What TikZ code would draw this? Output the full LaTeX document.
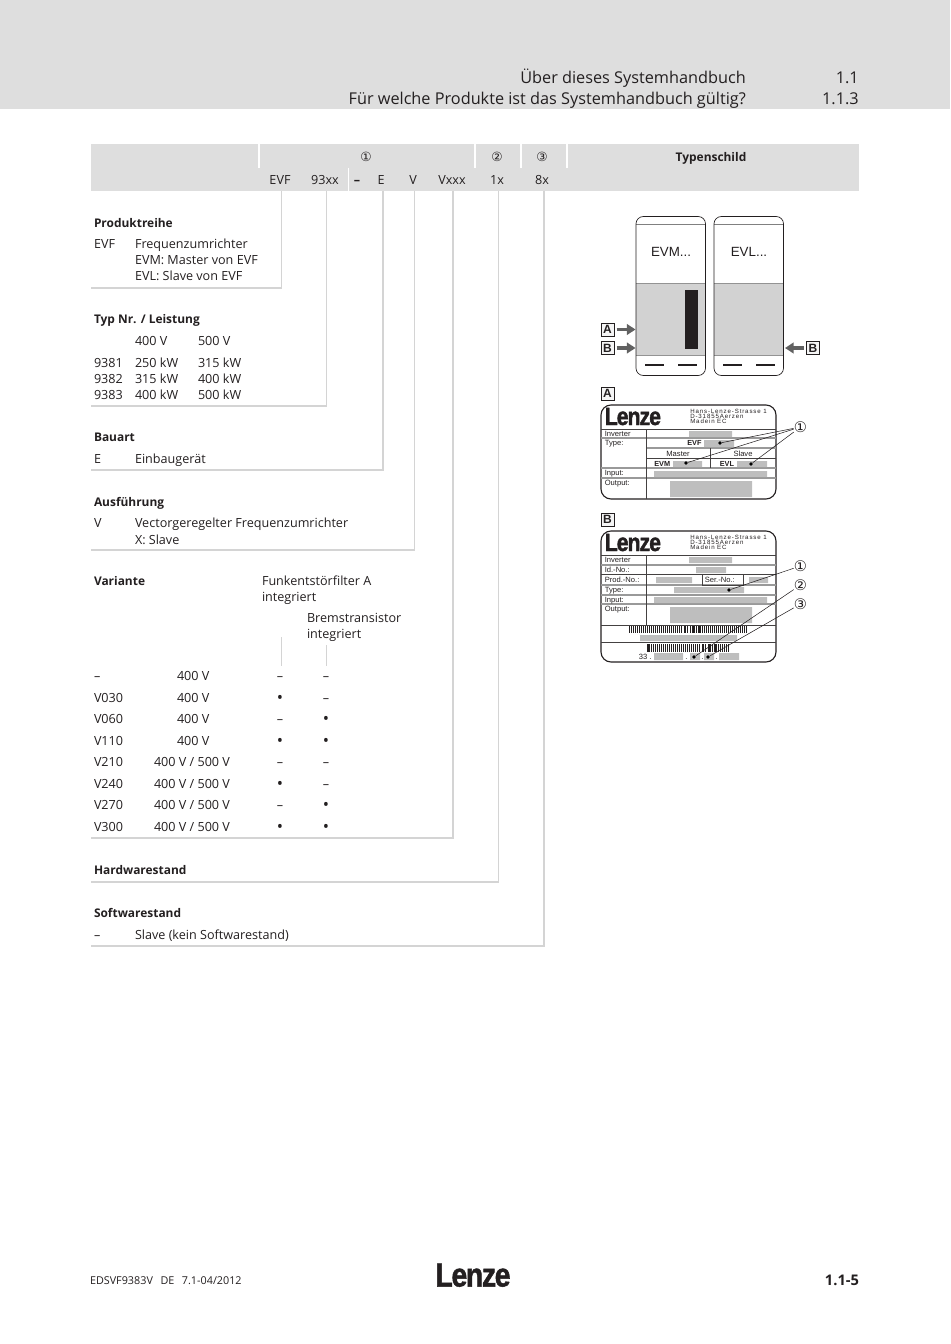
\documentclass[tikz,border=0pt]{standalone}
\usepackage{fontspec}
\setmainfont{Open Sans}
\newfontfamily\lab{Liberation Sans}
\newfontfamily\sym{DejaVu Sans}
\newfontfamily\lgf[FakeBold=1.5,FakeStretch=0.85,LetterSpace=-4]{Liberation Sans Bold}
\newfontfamily\adf[LetterSpace=14]{Liberation Sans}
\definecolor{band}{HTML}{DEDEDE}
\definecolor{rule}{HTML}{D4D4D4}
\definecolor{gbox}{HTML}{BEBEBE}
\definecolor{cab}{HTML}{D2D2D2}
\definecolor{ink}{HTML}{231F20}
\usetikzlibrary{arrows.meta}
\tikzset{
 x=0.75pt,y=-0.75pt,
 txt/.style={inner sep=0,outer sep=0,anchor=base west,text=ink,font=\fontsize{9.45}{11}\selectfont},
 ctr/.style={txt,anchor=base},
 rgt/.style={txt,anchor=base east},
 title/.style={inner sep=0,anchor=base east,text=ink,font=\fontsize{12.2}{14}\selectfont},
 rulei/.style={draw=rule,line width=1.25pt},
 whitei/.style={draw=white,line width=1.3pt},
 plate/.style={draw=ink,line width=0.85pt,rounded corners=7.5pt},
 plth/.style={draw=ink!85,line width=0.7pt},
 plthg/.style={draw=gray!80,line width=0.8pt},
 lbltxt/.style={inner sep=0,anchor=base west,text=ink,font=\lab\fontsize{5.7}{6}\selectfont},
 boldl/.style={lbltxt,font=\lab\bfseries\fontsize{5.5}{6}\selectfont},
 addr/.style={inner sep=0,anchor=base west,text=ink,font=\adf\fontsize{4.6}{5}\selectfont},
 boxl/.style={draw=ink,line width=0.5pt,fill=black!4,minimum width=9.8pt,minimum height=9.6pt,inner sep=0,text=ink,font=\lab\bfseries\fontsize{9}{10}\selectfont},
 logo/.style={inner sep=0,anchor=base west,text=ink,font=\lgf\fontsize{18.75}{20}\selectfont},
 circ/.style={inner sep=0,text=ink,font=\sym\fontsize{9.5}{10}\selectfont},
 circb/.style={inner sep=0,text=ink,font=\sym\fontsize{11}{12}\selectfont},
 arr/.style={draw=black!62,line width=2.6pt,-{Triangle[length=6.5pt,width=8pt]}},
 ptr/.style={draw=ink,line width=0.4pt},
 dotn/.style={circle,fill=black,inner sep=0,minimum size=2.8pt},
 barc/.style={draw=ink,line width=0.55pt},
}
\newcommand{\T}[4]{\node[txt] (#1) at (#2,#3) {#4};}
\newcommand{\C}[4]{\node[ctr] (#1) at (#2,#3) {#4};}
\newcommand{\BB}[1]{{\fontsize{8.95}{11}\selectfont\bfseries #1}}
\newcommand{\Bu}{\raisebox{-1.3pt}{\fontsize{12.5}{14}\selectfont•}}
\newcommand{\LN}[3]{\coordinate (#1t) at (#2,191);\coordinate (#1c) at (#2,#3);\coordinate (#1e) at (91,#3);\draw[rulei,line join=miter] (#1t) -- (#1c) -- (#1e);}
\newcommand{\VR}[7]{%
 \node[txt] (#1a) at (94,#2) {#3};\node[txt] (#1b) at (#4,#2) {#5};%
 \node[ctr] (#1c) at (280,#2) {#6};\node[ctr] (#1d) at (326,#2) {#7};}
\begin{document}
\begin{tikzpicture}
\useasboundingbox (0,0) rectangle (950,1344);
% header band
\fill[band] (0,0) rectangle (950,109);
\node[title] (h1) at (746,84) {Über dieses Systemhandbuch};
\node[title] (h2) at (746,105) {Für welche Produkte ist das Systemhandbuch gültig?};
\node[title] (n1) at (859,84) {1.1};
\node[title] (n2) at (859,105) {1.1.3};
% table head
\fill[band] (91,144) rectangle (859,191);
\foreach \xx in {259,475,521,567}{\draw[whitei] (\xx,144) -- (\xx,168);}
\draw[draw=white,line width=0.6pt] (348.5,168) -- (348.5,191);
\node[circ] (c1) at (366,156.5) {①};
\node[circ] (c2) at (497,156.5) {②};
\node[circ] (c3) at (542,156.5) {③};
\node[ctr] (ts) at (711,161.5) {\BB{Typenschild}};
\C{k1}{280}{185}{EVF}
\C{k2}{325}{185}{93xx}
\C{k3}{357}{185}{\textbf{–}}
\C{k4}{381}{185}{E}
\C{k5}{413}{185}{V}
\C{k6}{452}{185}{Vxxx}
\C{k7}{497}{185}{1x}
\C{k8}{542}{185}{8x}
% connector rules
\LN{la}{281.5}{288}
\LN{lb}{326.5}{406}
\LN{lc}{383}{470}
\LN{ld}{414.5}{550}
\LN{le}{453}{838}
\LN{lf}{498.5}{882}
\LN{lg}{544}{946}
\coordinate (s1) at (281.5,637); \coordinate (s2) at (281.5,666);
\coordinate (s3) at (326.5,645); \coordinate (s4) at (326.5,666);
\draw[rulei] (s1) -- (s2);
\draw[rulei] (s3) -- (s4);
% Produktreihe
\T{a0}{94}{228}{\BB{Produktreihe}}
\T{a1}{94}{249}{EVF}
\T{a2}{135}{249}{Frequenzumrichter}
\T{a3}{135}{265}{EVM: Master von EVF}
\T{a4}{135}{281}{EVL: Slave von EVF}
% Typ
\T{b0}{94}{324}{\BB{Typ Nr. / Leistung}}
\T{b1}{135}{345}{400 V}
\T{b2}{198}{345}{500 V}
\T{b3}{94}{367}{9381}\T{b4}{135}{367}{250 kW}\T{b5}{198}{367}{315 kW}
\T{b6}{94}{383}{9382}\T{b7}{135}{383}{315 kW}\T{b8}{198}{383}{400 kW}
\T{b9}{94}{399}{9383}\T{b10}{135}{399}{400 kW}\T{b11}{198}{399}{500 kW}
% Bauart
\T{d0}{94}{441}{\BB{Bauart}}
\T{d1}{94}{463}{E}
\T{d2}{135}{463}{Einbaugerät}
% Ausfuehrung
\T{e0}{94}{506}{\BB{Ausführung}}
\T{e1}{94}{527}{V}
\T{e2}{135}{527}{Vectorgeregelter Frequenzumrichter}
\T{e3}{135}{544}{X: Slave}
% Variante
\T{f0}{94}{585}{\BB{Variante}}
\T{f1}{262}{585}{Funkentstörfilter A}
\T{f2}{262}{601}{integriert}
\T{f3}{307}{622}{Bremstransistor}
\T{f4}{307}{638}{integriert}
\VR{r1}{680}{–}{177}{400 V}{–}{–}
\VR{r2}{702}{V030}{177}{400 V}{\Bu}{–}
\VR{r3}{723}{V060}{177}{400 V}{–}{\Bu}
\VR{r4}{745}{V110}{177}{400 V}{\Bu}{\Bu}
\VR{r5}{766}{V210}{154}{400 V / 500 V}{–}{–}
\VR{r6}{788}{V240}{154}{400 V / 500 V}{\Bu}{–}
\VR{r7}{809}{V270}{154}{400 V / 500 V}{–}{\Bu}
\VR{r8}{831}{V300}{154}{400 V / 500 V}{\Bu}{\Bu}
\T{g0}{94}{874}{\BB{Hardwarestand}}
\T{g1}{94}{917}{\BB{Softwarestand}}
\T{g2}{94}{939}{–}
\T{g3}{135}{939}{Slave (kein Softwarestand)}
% cabinets
\foreach \xo in {636,714}{
 \fill[cab] (\xo,283.5) rectangle (\xo+69.5,355.5);
 \draw[draw=gray!85,line width=0.8pt] (\xo,283.5) -- (\xo+69.5,283.5) (\xo,355.5) -- (\xo+69.5,355.5);
 \draw[draw=gray,line width=0.5pt] (\xo,224) -- (\xo+69.5,224);
 \draw[draw=ink,line width=0.5pt,rounded corners=5.5pt] (\xo,216.5) rectangle (\xo+69.5,375.5);
 \draw[draw=ink,line width=0.8pt] (\xo+9,365) -- (\xo+28,365) (\xo+42,365) -- (\xo+61,365);
}
\fill[ink] (685,290.5) rectangle (698,349);
\node[inner sep=0,text=ink,font=\lab\fontsize{10}{11}\selectfont] (evm) at (671,252) {EVM...};
\node[inner sep=0,text=ink,font=\lab\fontsize{10}{11}\selectfont] (evl) at (749,252) {EVL...};
\node[boxl] (aa) at (607.5,329.5) {A};
\node[boxl] (ab) at (607.5,348) {B};
\node[boxl] (ac) at (813,348) {B};
\coordinate (ta) at (635.5,329.5); \coordinate (tb) at (635.5,348); \coordinate (tc) at (785,348);
\draw[arr] (aa) ++(9,0) coordinate (sa) (sa) -- (ta);
\draw[arr] (ab) ++(9,0) coordinate (sb) (sb) -- (tb);
\draw[arr] (ac) ++(-9,0) coordinate (sc) (sc) -- (tc);
% Plate A
\node[boxl] (pa) at (607.5,393.5) {A};
\draw[plate] (601,405) rectangle (776,499);
\node[logo] (lga) at (604.5,425) {Lenze};
\node[addr] (ad1) at (690,413) {Hans-Lenze-Strasse 1};
\node[addr] (ad2) at (690,418) {D-31855Aerzen};
\node[addr] (ad3) at (690,423.5) {Madein EC};
\draw[plth] (601,429) -- (776,429);
\draw[plthg] (601,438) -- (776,438) (646,448) -- (776,448) (601,468) -- (776,468) (601,478) -- (776,478);
\draw[plth] (646,458.5) -- (776,458.5);
\draw[plth] (646,429) -- (646,499);
\draw[plth] (710.5,448) -- (710.5,468);
\fill[gbox] (689,431) rectangle (732,437) (704,440) rectangle (734,447) (673,461) rectangle (702,467) (737,461) rectangle (767,467) (654,471) rectangle (767,477) (670,481) rectangle (752,497);
\node[lbltxt] (ia1) at (604.5,436) {Inverter};
\node[lbltxt] (ia2) at (604.5,445) {Type:};
\node[lbltxt] (ia3) at (604.5,475.5) {Input:};
\node[lbltxt] (ia4) at (604.5,485.5) {Output:};
\node[lbltxt,anchor=base] (ia5) at (678,456) {Master};
\node[lbltxt,anchor=base] (ia6) at (743,456) {Slave};
\node[boldl] (ia7) at (687,445.5) {EVF};
\node[boldl] (ia8) at (654,466) {EVM};
\node[boldl] (ia9) at (719.5,466) {EVL};
\node[dotn] (da1) at (720,443) {};
\node[dotn] (da2) at (686,463) {};
\node[dotn] (da3) at (751,464) {};
\node[circb] (ca) at (800.5,427) {①};
\draw[ptr] (ca) -- (da1);
\draw[ptr] (ca) -- (da2);
\draw[ptr] (ca) -- (da3);
% Plate B
\node[boxl] (pb) at (607.5,519.5) {B};
\draw[plate] (601,531) rectangle (776,662);
\node[logo] (lgb) at (604.5,551) {Lenze};
\node[addr] (bd1) at (690,539) {Hans-Lenze-Strasse 1};
\node[addr] (bd2) at (690,544) {D-31855Aerzen};
\node[addr] (bd3) at (690,549.5) {Madein EC};
\draw[plth] (601,555) -- (776,555) (601,574.5) -- (776,574.5) (601,625) -- (776,625) (601,642) -- (776,642);
\draw[plthg] (601,565) -- (776,565) (601,585) -- (776,585) (601,595) -- (776,595) (601,604) -- (776,604);
\draw[plth] (646,555) -- (646,625);
\draw[plth] (702,574.5) -- (702,585) -- (743,585) -- (743,574.5);
\fill[gbox] (689,557) rectangle (732,563) (696,567) rectangle (726,573) (656,577) rectangle (692,583) (749,577) rectangle (768,583) (674,587) rectangle (744,593) (654,597) rectangle (767,603) (670,607) rectangle (752,623) (640,635) rectangle (737,641) (654,653) rectangle (683,660) (690,653) rectangle (700,660) (704,653) rectangle (714,660) (719,653) rectangle (739,660);
\node[lbltxt] (ib1) at (604.5,562) {Inverter};
\node[lbltxt] (ib2) at (604.5,572) {Id.-No.:};
\node[lbltxt] (ib3) at (604.5,582) {Prod.-No.:};
\node[lbltxt] (ib4) at (704.5,582) {Ser.-No.:};
\node[lbltxt] (ib5) at (604.5,592) {Type:};
\node[lbltxt] (ib6) at (604.5,602) {Input:};
\node[lbltxt] (ib7) at (604.5,611.5) {Output:};
\node[lbltxt] (ib8) at (638.5,659) {33 .};
\node[lbltxt] (ib9) at (685,659) {.};
\node[lbltxt] (ib10) at (701,659) {.};
\node[lbltxt] (ib11) at (715,659) {.};
% barcodes
\foreach \i in {0,...,58}{
 \pgfmathsetmacro{\bx}{629+\i*2.03}
 \pgfmathsetmacro{\bw}{0.35+0.5*mod(\i*7,3)/2}
 \draw[barc,line width=\bw pt] (\bx,626) -- (\bx,633);
}
\foreach \i in {0,...,40}{
 \pgfmathsetmacro{\bx}{647+\i*2.03}
 \pgfmathsetmacro{\bw}{0.35+0.5*mod(\i*5,3)/2}
 \draw[barc,line width=\bw pt] (\bx,644) -- (\bx,652);
}
\node[dotn] (db1) at (729,590) {};
\node[dotn] (db2) at (694,657) {};
\node[dotn] (db3) at (708,657) {};
\node[circb] (cb1) at (800.5,566) {①};
\node[circb] (cb2) at (800.5,585) {②};
\node[circb] (cb3) at (800.5,604) {③};
\draw[ptr] (cb1) -- (db1);
\draw[ptr] (cb2) -- (db2);
\draw[ptr] (cb3) -- (db3);
% footer
\node[txt,font=\fontsize{8.1}{9}\selectfont] (fa) at (90,1284) {EDSVF9383V\hspace{0.7em}DE\hspace{0.7em}7.1-04/2012};
\node[inner sep=0,anchor=base,text=ink,font=\lgf\fontsize{25}{26}\selectfont] (fl) at (473,1286.5) {Lenze};
\node[rgt,font=\fontsize{11}{12}\selectfont\bfseries] (fp) at (859,1285) {1.1-5};
\end{tikzpicture}
\end{document}
